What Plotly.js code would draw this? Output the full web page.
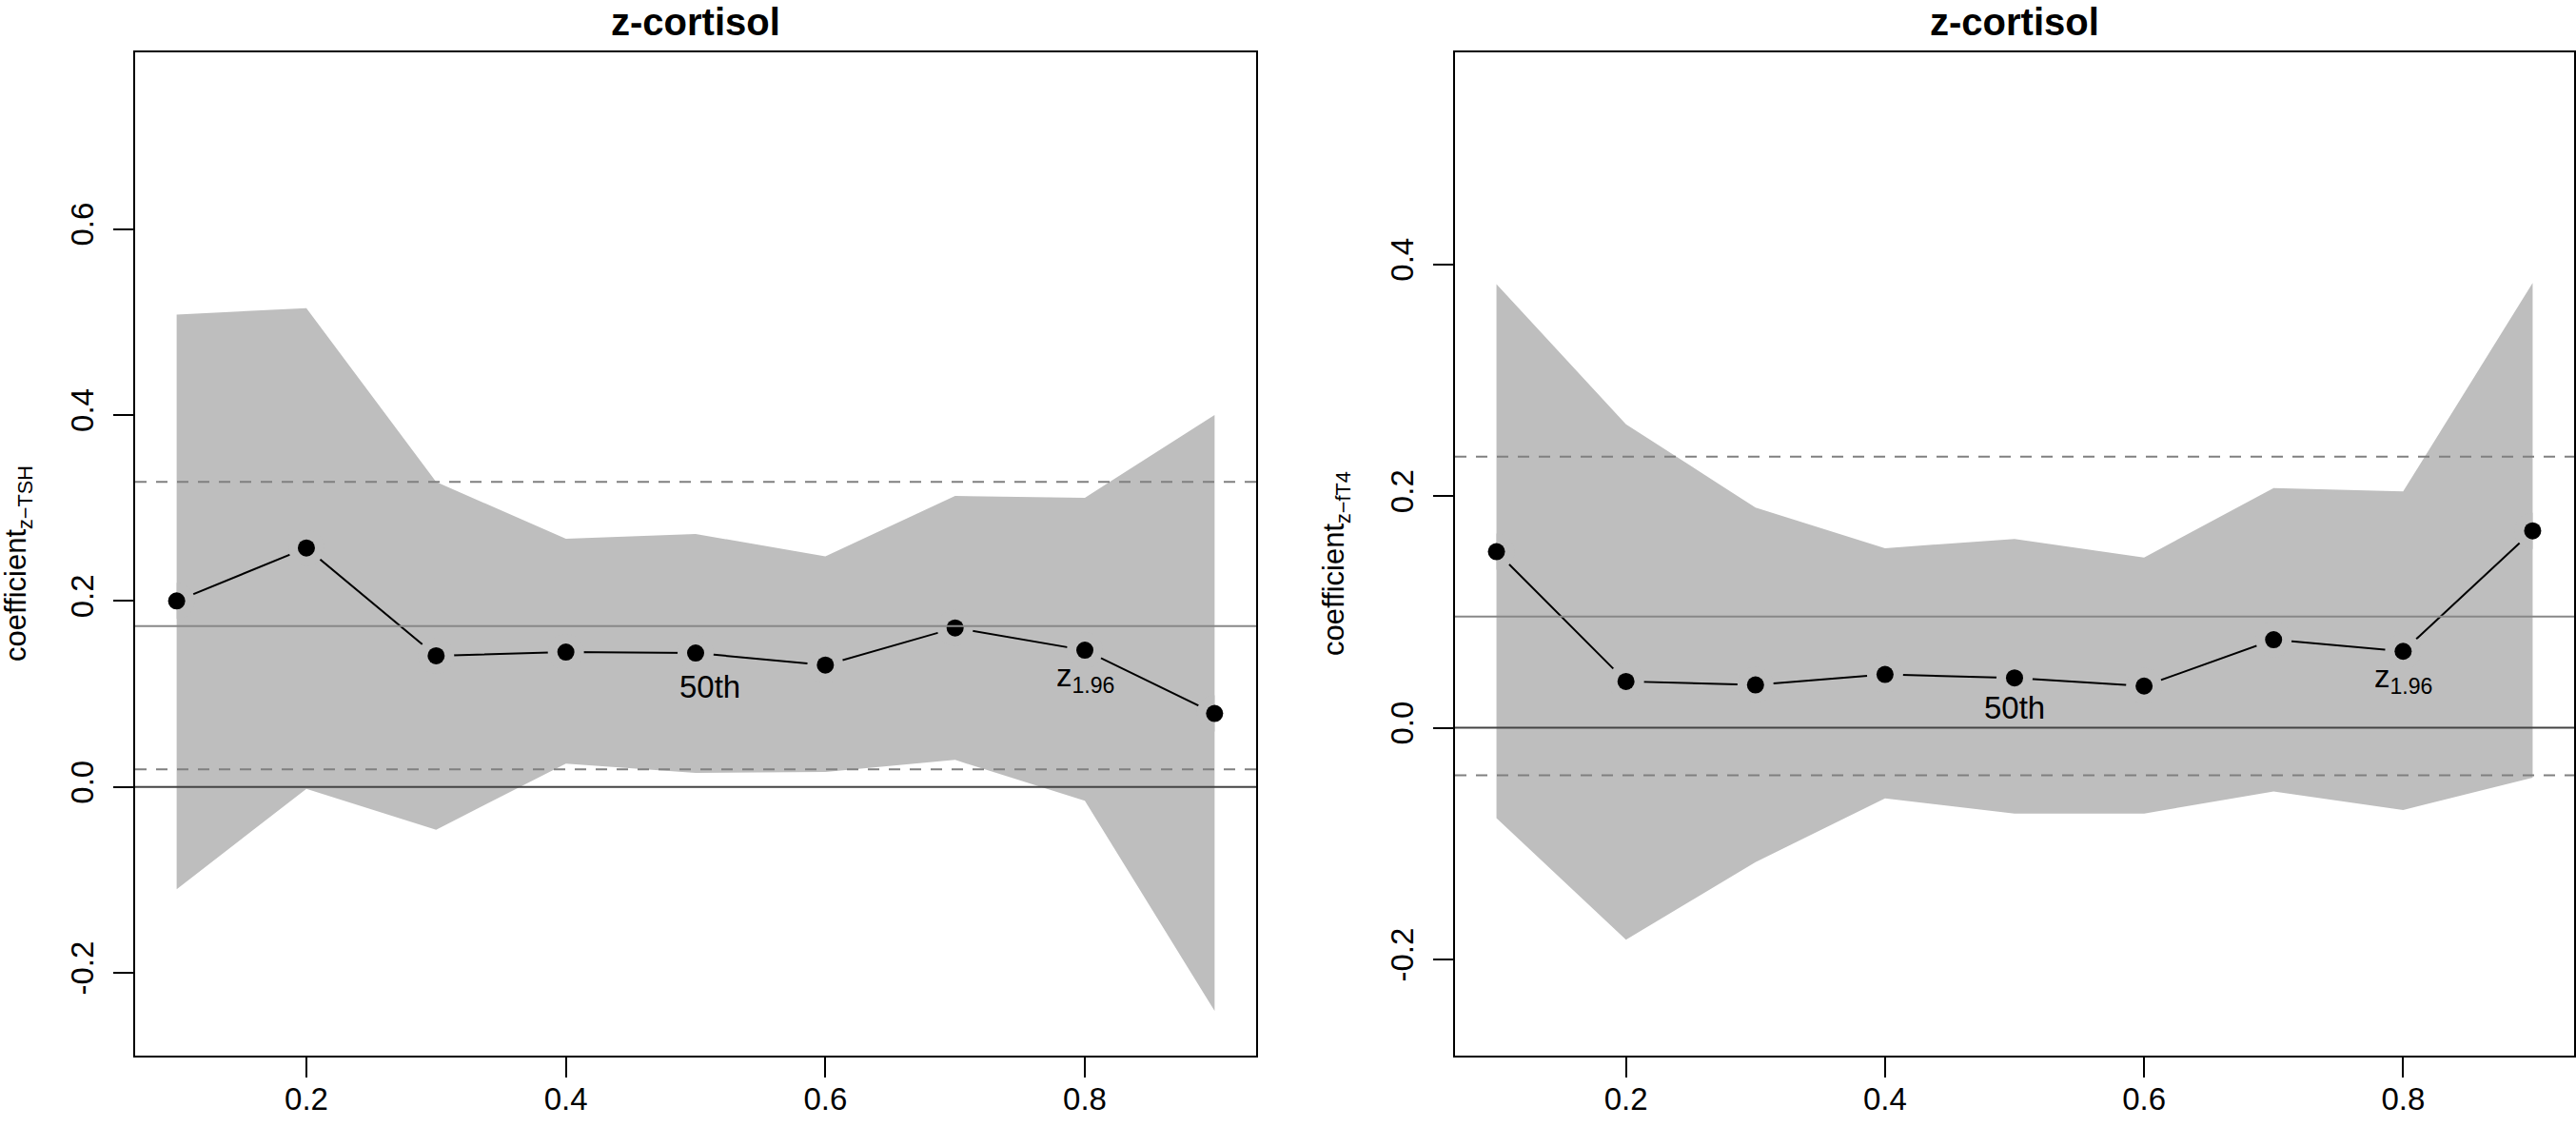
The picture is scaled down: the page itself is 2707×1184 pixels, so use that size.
<!DOCTYPE html>
<html>
<head>
<meta charset="utf-8">
<script src="https://cdn.plot.ly/plotly-3.0.1.min.js"></script>
<style>
  html, body { margin: 0; padding: 0; background: #fff; }
  #plot { width: 2707px; height: 1184px; }
</style>
</head>
<body>
<div id="plot"></div>
<script>
// quantile levels on the x axis
var quantiles = [0.1, 0.2, 0.3, 0.4, 0.5, 0.6, 0.7, 0.8, 0.9];

// left panel: coefficient z-TSH
var coefTSH  = [0.200, 0.257, 0.141, 0.145, 0.144, 0.131, 0.171, 0.147, 0.079];
var upperTSH = [0.508, 0.515, 0.328, 0.267, 0.272, 0.248, 0.313, 0.311, 0.400];
var lowerTSH = [-0.110, -0.002, -0.046, 0.025, 0.015, 0.016, 0.029, -0.015, -0.241];
var meanTSH = 0.173;
var ciTSH = [0.328, 0.019];

// right panel: coefficient z-fT4
var coefFT4  = [0.152, 0.040, 0.037, 0.046, 0.043, 0.036, 0.076, 0.066, 0.170];
var upperFT4 = [0.383, 0.262, 0.190, 0.155, 0.163, 0.147, 0.207, 0.204, 0.384];
var lowerFT4 = [-0.078, -0.183, -0.116, -0.061, -0.074, -0.074, -0.055, -0.071, -0.043];
var meanFT4 = 0.096;
var ciFT4 = [0.234, -0.041];

// ticks
var xTicks = [0.2, 0.4, 0.6, 0.8];
var xTickText = ['0.2', '0.4', '0.6', '0.8'];
var yTicksTSH = [-0.2, 0, 0.2, 0.4, 0.6];
var yTickTextTSH = ['-0.2', '0.0', '0.2', '0.4', '0.6'];
var yTicksFT4 = [-0.2, 0, 0.2, 0.4];
var yTickTextFT4 = ['-0.2', '0.0', '0.2', '0.4'];

var FONT = 'Liberation Sans, Arial, Helvetica, sans-serif';
var BAND = '#bebebe';
var W = 2707, H = 1184;

var xRange = [0.068, 0.932];
var xDomL = [142 / W, 1320 / W];
var xDomR = [1529 / W, 2705 / W];
var yDom = [1 - 1109 / H, 1 - 55 / H];

// domain of the part of an axis that lies between lo and hi (used to clip the
// gap discs to the band, which starts and ends at the first and last quantile)
function subDomain(dom, range, lo, hi) {
  var f = (dom[1] - dom[0]) / (range[1] - range[0]);
  return [dom[0] + (lo - range[0]) * f, dom[0] + (hi - range[0]) * f];
}
var qLo = quantiles[0], qHi = quantiles[quantiles.length - 1];

function panelTraces(coef, upper, lower, xa, ya, xclip) {
  return [
    { x: quantiles, y: lower, xaxis: xa, yaxis: ya, type: 'scatter', mode: 'lines',
      line: { width: 0, color: BAND }, hoverinfo: 'skip' },
    { x: quantiles, y: upper, xaxis: xa, yaxis: ya, type: 'scatter', mode: 'lines',
      fill: 'tonexty', fillcolor: BAND, line: { width: 0, color: BAND }, hoverinfo: 'skip' },
    { x: quantiles, y: coef, xaxis: xa, yaxis: ya, type: 'scatter', mode: 'lines',
      line: { color: '#000', width: 2 } },
    // band-coloured discs leave the gaps of R's type = "b"
    { x: quantiles, y: coef, xaxis: xclip, yaxis: ya, type: 'scatter', mode: 'markers',
      marker: { color: BAND, size: 38, line: { width: 0 } } },
    { x: quantiles, y: coef, xaxis: xclip, yaxis: ya, type: 'scatter', mode: 'markers',
      cliponaxis: false,
      marker: { color: '#000', size: 18, line: { width: 0 } } }
  ];
}

var data = panelTraces(coefTSH, upperTSH, lowerTSH, 'x', 'y', 'x3')
  .concat(panelTraces(coefFT4, upperFT4, lowerFT4, 'x2', 'y2', 'x4'));

function hline(y, xa, ya, color, dash) {
  return { type: 'line', layer: 'above', xref: xa + ' domain', yref: ya,
           x0: 0, x1: 1, y0: y, y1: y,
           line: { color: color, width: 2, dash: dash || 'solid' } };
}

var shapes = [
  hline(0, 'x', 'y', '#444444'),
  hline(meanTSH, 'x', 'y', '#888888'),
  hline(ciTSH[0], 'x', 'y', '#808080', '12px,10px'),
  hline(ciTSH[1], 'x', 'y', '#808080', '12px,10px'),
  hline(0, 'x2', 'y2', '#444444'),
  hline(meanFT4, 'x2', 'y2', '#888888'),
  hline(ciFT4[0], 'x2', 'y2', '#808080', '12px,10px'),
  hline(ciFT4[1], 'x2', 'y2', '#808080', '12px,10px')
];

function txt(text, xref, yref, x, y, size, extra) {
  var a = { text: text, xref: xref, yref: yref, x: x, y: y, showarrow: false,
            xanchor: 'center', yanchor: 'middle',
            font: { family: FONT, size: size, color: '#000' } };
  for (var k in extra) a[k] = extra[k];
  return a;
}

var titleOpts = { yanchor: 'top', borderpad: 0 };

var annotations = [
  txt('<b>z-cortisol</b>', 'x domain', 'paper', 0.5, 1, 40, titleOpts),
  txt('<b>z-cortisol</b>', 'x2 domain', 'paper', 0.5, 1, 40, titleOpts),
  txt('50th', 'x', 'y', 0.511, 0.108, 33),
  txt('z<sub>1.96</sub>', 'x', 'y', 0.8, 0.1175, 33),
  txt('50th', 'x2', 'y2', 0.5, 0.017, 33),
  txt('z<sub>1.96</sub>', 'x2', 'y2', 0.8, 0.042, 33),
  txt('coefficient<sub>z\u2212TSH</sub>', 'paper', 'paper', 19 / W, 0.5, 31, { textangle: -90 }),
  txt('coefficient<sub>z\u2212fT4</sub>', 'paper', 'paper', 1404 / W, 0.5, 31, { textangle: -90 })
];

function xAxis(domain, anchor) {
  return { domain: domain, range: xRange, anchor: anchor, showgrid: false, zeroline: false,
           showline: true, mirror: true, linecolor: '#000', linewidth: 2,
           ticks: 'outside', ticklen: 21, tickwidth: 2, tickcolor: '#000',
           tickvals: xTicks, ticktext: xTickText, ticklabelstandoff: -6,
           tickfont: { family: FONT, size: 33, color: '#000' } };
}

function yAxis(range, vals, text, anchor) {
  return { domain: yDom, range: range, anchor: anchor,
           showgrid: false, zeroline: false,
           showline: true, mirror: true, linecolor: '#000', linewidth: 2,
           ticks: 'outside', ticklen: 21, tickwidth: 2, tickcolor: '#000',
           tickvals: vals, ticktext: text, tickangle: -90, ticklabelstandoff: 8,
           tickfont: { family: FONT, size: 33, color: '#000' } };
}

function clipAxis(dom, anchor) {
  return { domain: subDomain(dom, xRange, qLo, qHi), range: [qLo, qHi], anchor: anchor,
           visible: false, showgrid: false, zeroline: false };
}

var layout = {
  width: W, height: H,
  margin: { l: 0, r: 0, t: 0, b: 0 },
  paper_bgcolor: '#fff', plot_bgcolor: 'rgba(0,0,0,0)',
  showlegend: false,
  xaxis: xAxis(xDomL, 'y'),
  yaxis: yAxis([-0.289, 0.790], yTicksTSH, yTickTextTSH, 'x'),
  xaxis2: xAxis(xDomR, 'y2'),
  yaxis2: yAxis([-0.283, 0.583], yTicksFT4, yTickTextFT4, 'x2'),
  xaxis3: clipAxis(xDomL, 'y'),
  xaxis4: clipAxis(xDomR, 'y2'),
  shapes: shapes,
  annotations: annotations
};

Plotly.newPlot('plot', data, layout, { displayModeBar: false, staticPlot: true });
</script>
</body>
</html>
